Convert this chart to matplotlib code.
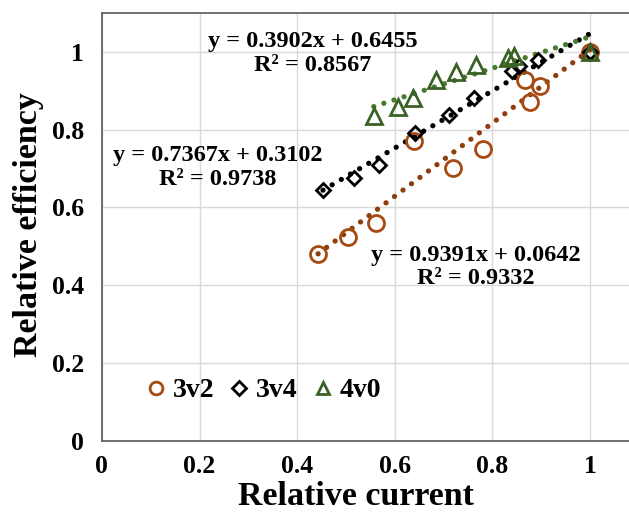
import numpy as np
import matplotlib
matplotlib.use("Agg")
import matplotlib.pyplot as plt
from matplotlib.lines import Line2D

# Data
x_3v2 = [0.443, 0.504, 0.561, 0.639, 0.719, 0.781, 0.867, 0.877, 0.898, 1.0]
y_3v2 = [0.481, 0.524, 0.560, 0.771, 0.700, 0.750, 0.928, 0.870, 0.913, 1.0]

x_3v4 = [0.453, 0.516, 0.568, 0.641, 0.711, 0.762, 0.840, 0.855, 0.893, 1.0]
y_3v4 = [0.645, 0.676, 0.709, 0.792, 0.838, 0.882, 0.951, 0.962, 0.979, 1.0]

x_4v0 = [0.557, 0.607, 0.637, 0.684, 0.725, 0.766, 0.832, 0.844, 1.0]
y_4v0 = [0.836, 0.859, 0.882, 0.928, 0.949, 0.966, 0.985, 0.990, 1.0]

labels = ["3v2", "3v4", "4v0"]
eq_texts = ["y = 0.9391x + 0.0642\nR² = 0.9332",
            "y = 0.7367x + 0.3102\nR² = 0.9738",
            "y = 0.3902x + 0.6455\nR² = 0.8567"]
x_ticks = [0, 0.2, 0.4, 0.6, 0.8, 1]
y_ticks = [0, 0.2, 0.4, 0.6, 0.8, 1]
tick_labels = ["0", "0.2", "0.4", "0.6", "0.8", "1"]

plt.rcParams['font.family'] = ['Liberation Serif', 'DejaVu Serif']
plt.rcParams['font.weight'] = 'bold'

fig = plt.figure(figsize=(6.29, 5.12), dpi=100)
ax = fig.add_axes([0.162, 0.139, 0.838, 0.836])

series = [
    (x_3v2, y_3v2, 'o', '#A64A12', '#8E3D0C', 11.5),
    (x_3v4, y_3v4, 'D', '#000000', '#000000', 7.5),
    (x_4v0, y_4v0, '^', '#3B6226', '#4A7A2E', 11),
]

handles = []
for (xs, ys, m, mc, tc, ms), lab in zip(series, labels):
    xs = np.array(xs); ys = np.array(ys)
    k, b = np.polyfit(xs, ys, 1)
    xl = np.linspace(xs.min(), xs.max(), 50)
    ax.plot(xl, k * xl + b, color=tc, lw=3.8, linestyle=(0, (0.01, 2.0)),
            dash_capstyle='round', zorder=2)
    ax.plot(xs, ys, linestyle='none', marker=m, markersize=ms,
            markerfacecolor='none', markeredgecolor=mc, markeredgewidth=2, zorder=3)
    handles.append(Line2D([], [], linestyle='none', marker=m,
                          markersize=ms * 0.8 if m != 'D' else ms,
                          markerfacecolor='none', markeredgecolor=mc,
                          markeredgewidth=2))

fs = 17.5
ax.text(0.766, 0.447, eq_texts[0], ha='center', va='center', fontsize=fs,
        fontweight='bold', linespacing=1.15)
ax.text(0.238, 0.702, eq_texts[1], ha='center', va='center', fontsize=fs,
        fontweight='bold', linespacing=1.15)
ax.text(0.432, 0.995, eq_texts[2], ha='center', va='center', fontsize=fs,
        fontweight='bold', linespacing=1.15)

ax.set_xlim(0, 1.08)
ax.set_ylim(0, 1.1)
ax.set_xticks(x_ticks)
ax.set_xticklabels(tick_labels)
ax.set_yticks(y_ticks)
ax.set_yticklabels(tick_labels)
ax.tick_params(axis='x', length=0, labelsize=18.5, pad=10)
ax.tick_params(axis='y', length=0, labelsize=18.5, pad=13)
for lab in ax.get_xticklabels() + ax.get_yticklabels():
    lab.set_fontweight('bold')
ax.grid(True, color='#D9D9D9', lw=1)
ax.set_axisbelow(True)
for s in ['left', 'bottom', 'top']:
    ax.spines[s].set_color('#595959')
    ax.spines[s].set_linewidth(1.2)
ax.spines['right'].set_visible(False)

ax.set_xlabel("Relative current", fontsize=24.5, fontweight='bold')
ax.xaxis.set_label_coords(0.482, -0.094)
ax.set_ylabel("Relative efficiency", fontsize=24.5, fontweight='bold')
ax.yaxis.set_label_coords(-0.110, 0.505)

leg = ax.legend(handles, labels, loc='center left', bbox_to_anchor=(0.042, 0.117),
                ncol=3, frameon=False, fontsize=20, handlelength=0.5,
                handletextpad=0.35, columnspacing=0.65)
for t in leg.get_texts():
    t.set_fontweight('bold')

fig.savefig("out.png", dpi=100)
